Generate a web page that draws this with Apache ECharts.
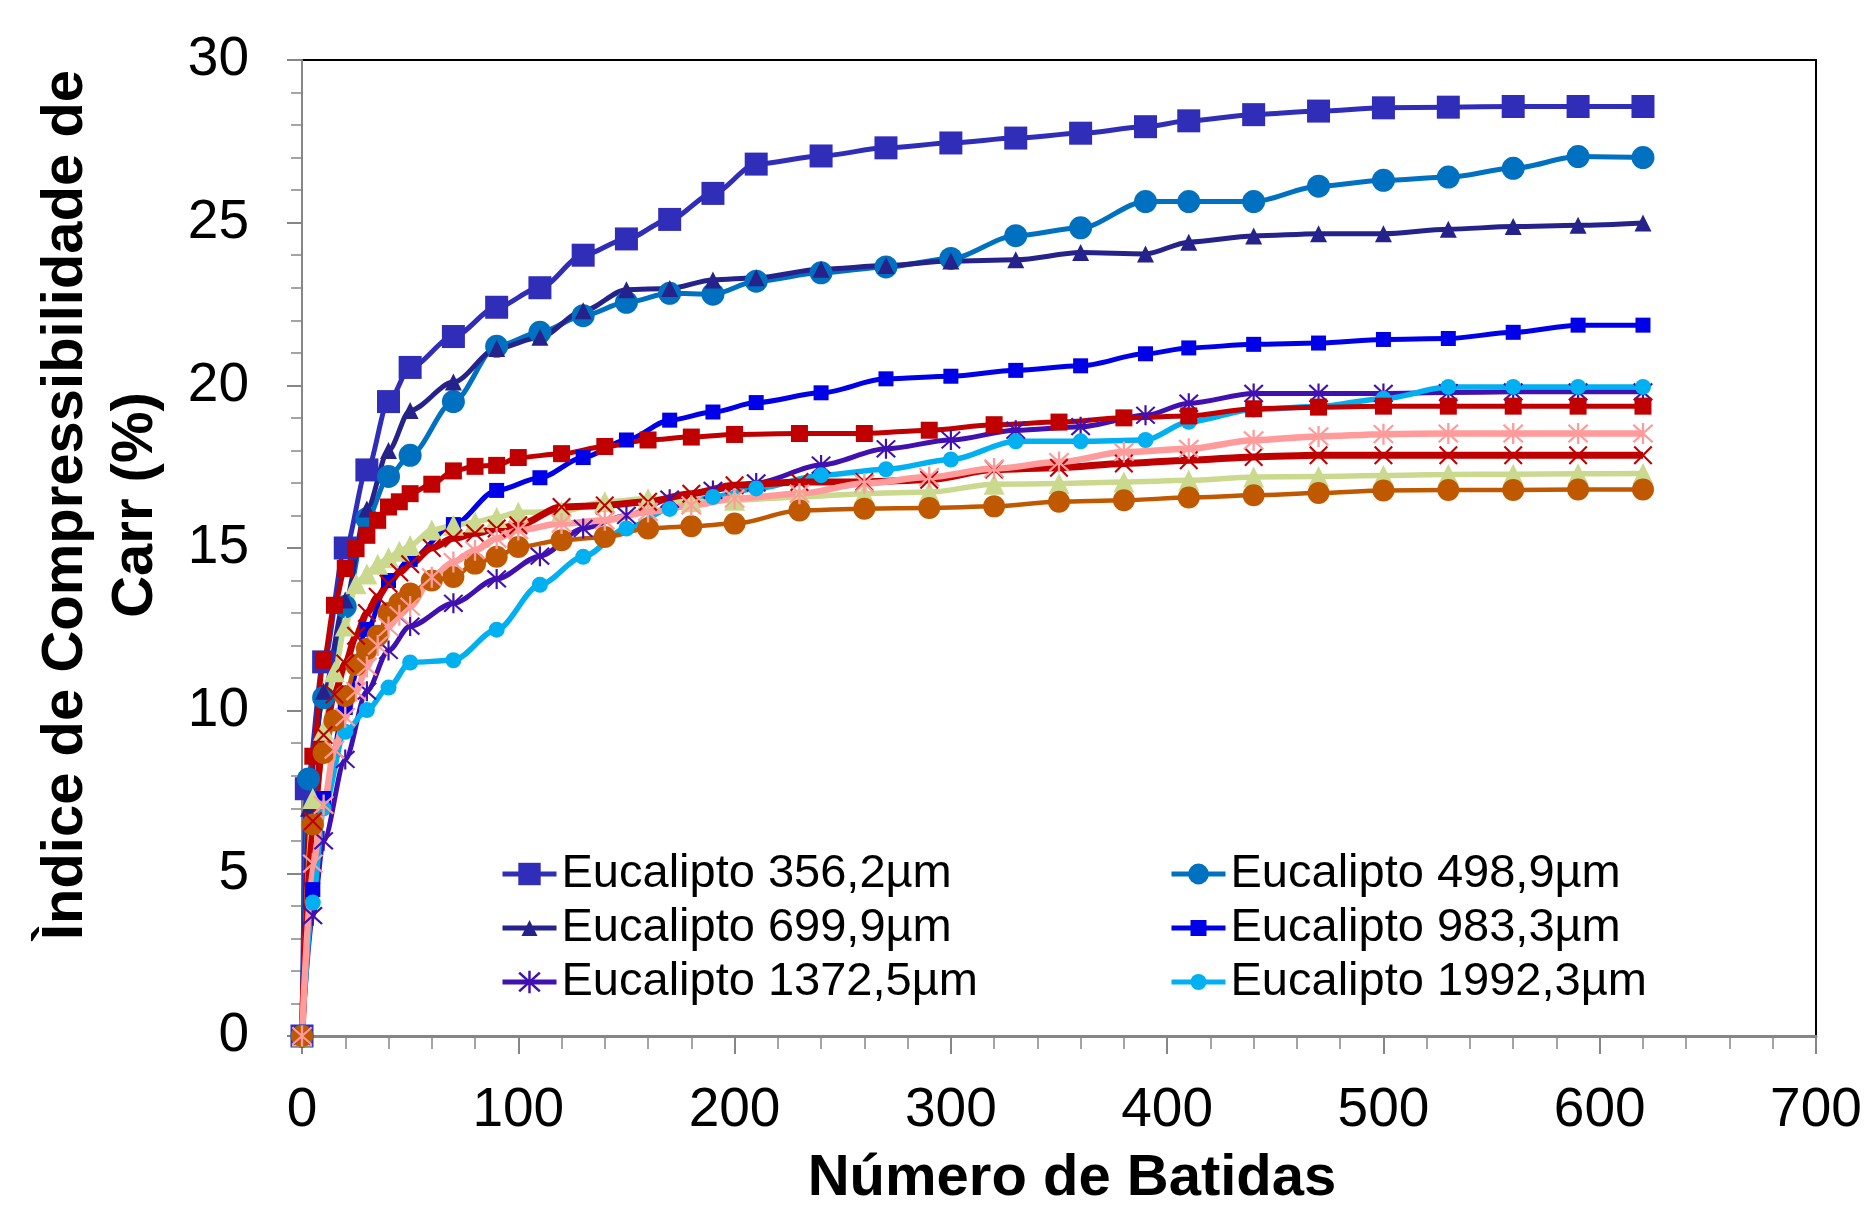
<!DOCTYPE html>
<html><head><meta charset="utf-8">
<script src="https://cdn.jsdelivr.net/npm/echarts@6/dist/echarts.min.js"></script>
<style>html,body{margin:0;padding:0;background:#fff}#c{width:1865px;height:1210px}</style>
</head><body><div id="c"></div>
<script>
// ---- data ----
const namesLegend = ['Eucalipto 356,2µm','Eucalipto 498,9µm','Eucalipto 699,9µm','Eucalipto 983,3µm','Eucalipto 1372,5µm','Eucalipto 1992,3µm'];
const namesOther = ['Série 7','Série 8','Série 9','Série 10','Série 11'];

const xA = [0,2,10,20,30,40,50,70,90,110,130,150,170,190,210,240,270,300,330,360,390,410,440,470,500,530,560,590,620];
const yA = [0,7.6,11.5,15.0,17.4,19.5,20.55,21.5,22.4,23.0,24.0,24.5,25.1,25.9,26.8,27.05,27.3,27.45,27.6,27.75,27.95,28.13,28.32,28.43,28.53,28.55,28.57,28.57,28.57];

const xB = [0,3,10,20,30,40,50,70,90,110,130,150,170,190,210,240,270,300,330,360,390,410,440,470,500,530,560,590,620];
const yB = [0,7.9,10.4,13.2,15.9,17.2,17.85,19.5,21.2,21.63,22.14,22.55,22.83,22.8,23.2,23.46,23.64,23.9,24.6,24.84,25.65,25.65,25.65,26.12,26.3,26.4,26.67,27.03,27.0];

const xC = [0,3,10,20,30,40,50,70,90,110,130,150,170,190,210,240,270,300,330,360,390,410,440,470,500,530,560,590,620];
const yC = [0,7.0,10.6,13.4,16.2,18.0,19.23,20.1,21.13,21.48,22.29,22.94,22.98,23.24,23.31,23.57,23.68,23.82,23.86,24.08,24.04,24.4,24.59,24.66,24.66,24.8,24.88,24.92,24.99];

const xD = [0,5,10,20,30,40,50,70,90,110,130,150,170,190,210,240,270,300,330,360,390,410,440,470,500,530,560,590,620];
const yD = [0,4.5,7.3,10.1,12.5,14.0,14.65,15.72,16.77,17.16,17.78,18.32,18.93,19.18,19.47,19.77,20.2,20.28,20.46,20.6,20.97,21.15,21.26,21.3,21.41,21.44,21.63,21.85,21.85];

const xE = [0,5,10,20,30,40,50,70,90,110,130,150,170,190,210,240,270,300,330,360,390,410,440,470,500,530,560,590,620];
const yE = [0,3.7,6.0,8.5,10.6,11.85,12.6,13.3,14.05,14.75,15.6,16.0,16.5,16.77,17.0,17.55,18.05,18.32,18.62,18.73,19.08,19.45,19.75,19.75,19.75,19.78,19.8,19.8,19.8];

const xF = [0,5,10,20,30,40,50,70,90,110,130,150,170,190,210,240,270,300,330,360,390,410,440,470,500,530,560,590,620];
const yF = [0,4.1,7.0,9.35,10.02,10.71,11.48,11.55,12.49,13.87,14.73,15.6,16.2,16.57,16.83,17.24,17.42,17.72,18.28,18.28,18.32,18.88,19.26,19.35,19.59,19.95,19.95,19.95,19.95];

const xG = [0,5,10,15,20,25,30,35,40,45,50,60,70,80,90,100,120,140,160,180,200,230,260,290,320,350,380,410,440,470,500,530,560,590,620];
const yG = [0,8.6,11.55,13.24,14.37,14.98,15.39,15.85,16.26,16.42,16.67,16.96,17.37,17.51,17.54,17.78,17.9,18.12,18.32,18.41,18.49,18.52,18.52,18.62,18.79,18.87,19.0,19.06,19.28,19.33,19.36,19.36,19.36,19.36,19.36];
const yH = [0,6.6,9.25,10.5,11.45,12.3,13.0,13.5,13.9,14.25,14.5,15.0,15.3,15.45,15.6,15.7,16.26,16.31,16.42,16.67,16.93,17.03,17.03,17.1,17.41,17.47,17.6,17.7,17.8,17.85,17.85,17.85,17.85,17.85,17.85];
const yI = [0,7.3,9.4,11.2,12.6,13.9,14.2,14.5,14.7,14.9,15.08,15.55,15.7,15.8,15.94,16.1,16.12,16.42,16.52,16.42,16.47,16.57,16.67,16.72,16.96,16.98,17.03,17.08,17.18,17.2,17.23,17.26,17.27,17.28,17.29];
const yJ = [0,6.5,8.7,9.7,10.45,11.4,11.9,12.3,13.0,13.3,13.6,14.0,14.11,14.52,14.73,15.03,15.24,15.34,15.6,15.67,15.75,16.15,16.21,16.23,16.28,16.42,16.47,16.55,16.62,16.69,16.77,16.78,16.78,16.8,16.8];
const yK = [0,5.3,7.1,8.8,9.8,10.6,11.35,12.0,12.57,12.93,13.2,14.1,14.57,14.93,15.29,15.55,15.75,15.85,16.11,16.31,16.52,16.67,16.98,17.18,17.44,17.64,17.95,18.05,18.31,18.43,18.5,18.52,18.52,18.52,18.52];

const xTicks = [0,100,200,300,400,500,600,700];
const yTicks = [0,5,10,15,20,25,30];

// ---- marker shapes ----
function bar(x1,y1,x2,y2,w){const dx=x2-x1,dy=y2-y1,L=Math.hypot(dx,dy),nx=-dy/L*w,ny=dx/L*w;
  return 'M'+(x1+nx)+' '+(y1+ny)+'L'+(x2+nx)+' '+(y2+ny)+'L'+(x2-nx)+' '+(y2-ny)+'L'+(x1-nx)+' '+(y1-ny)+'Z';}
const xMark = 'path://'+bar(0,0,100,100,6)+bar(100,0,0,100,6);
const starMark = 'path://'+bar(50,0,50,100,5)+bar(8,8,92,92,5)+bar(92,8,8,92,5);

const zip = (xs,ys)=>xs.map((x,i)=>[x,ys[i]]);
const FONT = '"Liberation Sans", Arial, sans-serif';

function mk(name,xs,ys,color,symbol,size,width){
  return {name, type:'line', data:zip(xs,ys), symbol, symbolSize:size, showAllSymbol:true,
    smooth:0.3, smoothMonotone:'x',
    lineStyle:{color,width}, itemStyle:{color}, emphasis:{disabled:true}};
}
const series = [
  mk(namesLegend[0],xA,yA,'#302DB8','rect',23,5),
  mk(namesLegend[1],xB,yB,'#0070C0','circle',23,5),
  mk(namesLegend[2],xC,yC,'#25238B','triangle',17,5),
  mk(namesLegend[3],xD,yD,'#0000E8','rect',15,5),
  mk(namesLegend[4],xE,yE,'#4010B0',starMark,20,5),
  mk(namesLegend[5],xF,yF,'#00B0F0','circle',16,5.5),
  mk(namesOther[0],xG,yG,'#C00000','rect',17,5),
  mk(namesOther[2],xG,yI,'#CBD98E','triangle',21,5.5),
  mk(namesOther[3],xG,yJ,'#C05800','circle',22,4.5),
  mk(namesOther[1],xG,yH,'#C00000',xMark,19,7),
  mk(namesOther[4],xG,yK,'#FF9B9B',starMark,21,6.5)
];

const legPos = [[500,874,28],[1169,874,26],[500,928,20],[1169,928,20],[500,982,28],[1169,982,20]];
const legends = namesLegend.map((n,i)=>({
  data:[n], left:legPos[i][0], top:legPos[i][1]-25, itemWidth:54, itemHeight:legPos[i][2],
  selectedMode:false, padding:0, itemGap:0, lineStyle:{width:5},
  textStyle:{fontFamily:FONT,fontSize:47,color:'#000',lineHeight:50}
}));

const chart = echarts.init(document.getElementById('c'),null,{renderer:'canvas'});
chart.setOption({
  animation:false,
  backgroundColor:'#fff',
  legend:legends,
  grid:{left:302,top:60,right:49,bottom:174,show:true,borderColor:'#000',borderWidth:2,backgroundColor:'transparent',
    containLabel:false,outerBoundsMode:'none'},
  xAxis:{type:'value',min:xTicks[0],max:xTicks[xTicks.length-1],interval:100,
    name:'Número de Batidas',nameLocation:'middle',nameGap:114,
    nameTextStyle:{fontFamily:FONT,fontSize:58,fontWeight:'bold',color:'#000',padding:[0,0,0,26]},
    axisLine:{lineStyle:{color:'#868686',width:3}},
    axisTick:{show:true,length:18,lineStyle:{color:'#868686',width:2}},
    minorTick:{show:true,splitNumber:5,length:13,lineStyle:{color:'#868686',width:1.5}},
    splitLine:{show:false},
    axisLabel:{fontFamily:FONT,fontSize:55,color:'#000',margin:47}},
  yAxis:{type:'value',min:yTicks[0],max:yTicks[yTicks.length-1],interval:5,
    axisLine:{show:true,lineStyle:{color:'#868686',width:2}},
    axisTick:{show:true,length:15,lineStyle:{color:'#868686',width:2}},
    minorTick:{show:true,splitNumber:5,length:11,lineStyle:{color:'#868686',width:1.5}},
    splitLine:{show:false},
    axisLabel:{fontFamily:FONT,fontSize:55,color:'#000',margin:53}},
  graphic:[{type:'text',x:101,y:505,rotation:Math.PI/2,
    style:{text:'Ìndice de Compressibilidade de\nCarr (%)',fontFamily:FONT,fontSize:58,fontWeight:'bold',
      fill:'#000',align:'center',verticalAlign:'middle',lineHeight:70}}],
  series
});
</script></body></html>
